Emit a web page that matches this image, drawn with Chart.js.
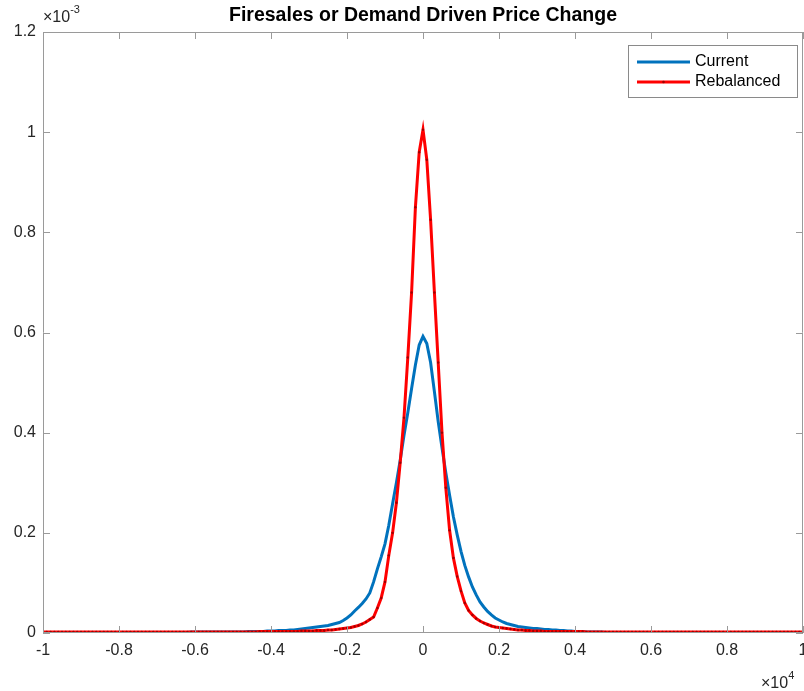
<!DOCTYPE html>
<html>
<head>
<meta charset="utf-8">
<script src="https://cdn.jsdelivr.net/npm/chart.js@4"></script>
<style>
  html, body { margin: 0; padding: 0; background: #fff; overflow: hidden; }
  #wrap { width: 804px; height: 691px; position: relative; overflow: hidden; }
</style>
</head>
<body>
<div id="wrap"><canvas id="c" width="804" height="691"></canvas></div>
<script>
// Title / labels
const chartTitle = "Firesales or Demand Driven Price Change";
const seriesNames = ["Current", "Rebalanced"];
const yExponent = "-3";
const xExponent = "4";
const xTicks = [-1, -0.8, -0.6, -0.4, -0.2, 0, 0.2, 0.4, 0.6, 0.8, 1];
const yTicks = [0, 0.2, 0.4, 0.6, 0.8, 1, 1.2];

// Sample grid (x in units of 10^4), step 0.01 from -1 to 1
const xStart = -1, xStep = 0.01;

// Current (blue), y in units of 10^-3, x from -1.00 to 1.00
const current = [
  // -1.00 .. -0.51
  0,0,0,0,0,0,0,0,0,0, 0,0,0,0,0,0,0,0,0,0,
  0.001,0.001,0.001,0.001,0.001,0.001,0.001,0.001,0.001,0.001,
  0.001,0.001,0.001,0.001,0.001,0.001,0.001,0.001,0.001,0.002,
  0.002,0.002,0.002,0.002,0.002,0.002,0.002,0.002,0.002,0.002,
  // -0.50 .. -0.41
  0.002,0.002,0.002,0.002,0.003,0.003,0.003,0.003,0.003,0.004,
  // -0.40 .. -0.31
  0.004,0.004,0.005,0.005,0.005,0.006,0.006,0.007,0.008,0.009,
  // -0.30 .. -0.21
  0.010,0.011,0.012,0.013,0.014,0.015,0.017,0.019,0.021,0.025,
  // -0.20 .. -0.11
  0.030,0.036,0.044,0.051,0.059,0.068,0.080,0.102,0.128,0.152,
  // -0.10 .. -0.01
  0.178,0.215,0.258,0.300,0.345,0.395,0.440,0.488,0.535,0.575,
  // 0.00
  0.592,
  // 0.01 .. 0.10
  0.578,0.540,0.482,0.422,0.370,0.320,0.275,0.232,0.196,0.163,
  // 0.11 .. 0.20
  0.135,0.112,0.092,0.076,0.062,0.052,0.043,0.036,0.030,0.026,
  // 0.21 .. 0.30
  0.022,0.019,0.017,0.015,0.013,0.012,0.011,0.010,0.009,0.009,
  // 0.31 .. 0.40
  0.008,0.007,0.007,0.006,0.006,0.005,0.005,0.004,0.004,0.003,
  // 0.41 .. 0.50
  0.003,0.003,0.002,0.002,0.002,0.002,0.002,0.001,0.001,0.001,
  // 0.51 .. 1.00
  0.001,0.001,0.001,0.001,0.001,0.001,0.001,0.001,0.001,0.001,
  0.001,0.001,0.001,0.001,0.001,0,0,0,0,0,
  0,0,0,0,0,0,0,0,0,0, 0,0,0,0,0,0,0,0,0,0, 0,0,0,0,0,0,0,0,0,0
];

// Rebalanced (red), y in units of 10^-3, x from -1.00 to 1.00
const rebalanced = [
  // -1.00 .. -0.51
  0.002,0.002,0.002,0.002,0.002,0.002,0.002,0.002,0.002,0.002,
  0.002,0.002,0.002,0.002,0.002,0.002,0.002,0.002,0.002,0.002,
  0.002,0.002,0.002,0.002,0.002,0.002,0.002,0.002,0.002,0.002,
  0.002,0.002,0.002,0.002,0.002,0.002,0.002,0.002,0.002,0.002,
  0.002,0.002,0.002,0.002,0.002,0.002,0.002,0.002,0.002,0.002,
  // -0.50 .. -0.41
  0.002,0.002,0.002,0.002,0.002,0.002,0.002,0.003,0.003,0.003,
  // -0.40 .. -0.31
  0.003,0.003,0.003,0.003,0.003,0.003,0.003,0.003,0.004,0.004,
  // -0.30 .. -0.21
  0.004,0.004,0.005,0.005,0.005,0.006,0.006,0.007,0.008,0.009,
  // -0.20 .. -0.11
  0.010,0.011,0.013,0.015,0.018,0.022,0.027,0.032,0.050,0.070,
  // -0.10 .. -0.01
  0.102,0.155,0.200,0.260,0.340,0.430,0.550,0.680,0.850,0.960,
  // 0.00
  1.005,
  // 0.01 .. 0.10
  0.945,0.825,0.680,0.540,0.400,0.290,0.205,0.150,0.113,0.084,
  // 0.11 .. 0.20
  0.060,0.045,0.036,0.029,0.024,0.020,0.017,0.014,0.012,0.011,
  // 0.21 .. 0.30
  0.010,0.009,0.008,0.007,0.006,0.006,0.005,0.005,0.004,0.004,
  // 0.31 .. 0.40
  0.004,0.003,0.003,0.003,0.003,0.003,0.003,0.003,0.003,0.003,
  // 0.41 .. 0.50
  0.003,0.003,0.002,0.002,0.002,0.002,0.002,0.002,0.002,0.002,
  // 0.51 .. 1.00
  0.002,0.002,0.002,0.002,0.002,0.002,0.002,0.002,0.002,0.002,
  0.002,0.002,0.002,0.002,0.002,0.002,0.002,0.002,0.002,0.002,
  0.002,0.002,0.002,0.002,0.002,0.002,0.002,0.002,0.002,0.002,
  0.002,0.002,0.002,0.002,0.002,0.002,0.002,0.002,0.002,0.002,
  0.002,0.002,0.002,0.002,0.002,0.002,0.002,0.002,0.002,0.002
];

const toPoints = arr => arr.map((v, i) => ({ x: +(xStart + i * xStep).toFixed(2), y: v }));

const FONT = "'Liberation Sans', Arial, Helvetica, sans-serif";
const AX = '#9a9a9a';
const TXT = '#262626';
const BLUE = '#0072BD';
const RED = '#FF0000';

const fmt = v => {
  const r = Math.round(v * 10) / 10;
  return Object.is(r, -0) ? '0' : String(r);
};

// Fixes the plot box to match the reference frame
const AREA = { left: 43, right: 803, top: 32, bottom: 633 };
const areaPlugin = {
  id: 'area',
  afterLayout(chart) {
    const a = chart.chartArea;
    Object.assign(a, AREA);
    a.width = AREA.right - AREA.left;
    a.height = AREA.bottom - AREA.top;
    const x = chart.scales.x, y = chart.scales.y;
    x.left = AREA.left; x.right = AREA.right; x.width = a.width;
    x.top = AREA.bottom; x.bottom = chart.height; x.height = x.bottom - x.top;
    y.top = AREA.top; y.bottom = AREA.bottom; y.height = a.height;
    y.left = 0; y.right = AREA.left; y.width = AREA.left;
    x.configure(); y.configure();
  }
};

const decorPlugin = {
  id: 'decor',
  afterDraw(chart) {
    const ctx = chart.ctx;
    const a = chart.chartArea;
    const xs = chart.scales.x, ys = chart.scales.y;
    ctx.save();
    // box
    ctx.strokeStyle = AX;
    ctx.lineWidth = 1;
    ctx.beginPath();
    ctx.rect(a.left + 0.5, a.top + 0.5, a.right - a.left - 1, a.bottom - a.top - 1);
    ctx.stroke();
    // inward ticks
    const tl = 7;
    ctx.beginPath();
    xTicks.forEach(t => {
      const px = Math.round(xs.getPixelForValue(t)) + 0.5;
      ctx.moveTo(px, a.bottom); ctx.lineTo(px, a.bottom - tl);
      ctx.moveTo(px, a.top); ctx.lineTo(px, a.top + tl);
    });
    yTicks.forEach(t => {
      const py = Math.round(ys.getPixelForValue(t)) + 0.5;
      ctx.moveTo(a.left, py); ctx.lineTo(a.left + tl, py);
      ctx.moveTo(a.right, py); ctx.lineTo(a.right - tl, py);
    });
    ctx.stroke();

    // title
    ctx.fillStyle = '#000';
    ctx.font = 'bold 19.5px ' + FONT;
    ctx.textAlign = 'center';
    ctx.textBaseline = 'middle';
    ctx.fillText(chartTitle, 423, 16);

    // exponent labels
    ctx.fillStyle = TXT;
    ctx.textAlign = 'left';
    ctx.textBaseline = 'alphabetic';
    ctx.font = '16px ' + FONT;
    let x0 = 43, y0 = 22;
    ctx.fillText('\u00d710', x0, y0);
    let w = ctx.measureText('\u00d710').width;
    ctx.font = '11px ' + FONT;
    ctx.fillText(yExponent, x0 + w, y0 - 9);

    ctx.font = '16px ' + FONT;
    x0 = 761; y0 = 688;
    ctx.fillText('\u00d710', x0, y0);
    w = ctx.measureText('\u00d710').width;
    ctx.font = '11px ' + FONT;
    ctx.fillText(xExponent, x0 + w, y0 - 9);

    // legend
    const lx = 628, ly = 45, lw = 169, lh = 52;
    ctx.fillStyle = '#fff';
    ctx.fillRect(lx, ly, lw, lh);
    ctx.strokeStyle = '#8a8a8a';
    ctx.lineWidth = 1;
    ctx.strokeRect(lx + 0.5, ly + 0.5, lw, lh);
    const rows = [[seriesNames[0], BLUE, 62], [seriesNames[1], RED, 82]];
    rows.forEach(([name, col, yy], i) => {
      ctx.strokeStyle = col;
      ctx.lineWidth = 3;
      ctx.beginPath();
      ctx.moveTo(637, yy); ctx.lineTo(690, yy);
      ctx.stroke();
      if (i === 1) {
        ctx.fillStyle = '#a00000';
        ctx.beginPath(); ctx.arc(663.5, yy, 1.3, 0, Math.PI * 2); ctx.fill();
      }
      ctx.fillStyle = '#000';
      ctx.font = '16px ' + FONT;
      ctx.textBaseline = 'middle';
      ctx.fillText(name, 695, yy);
    });
    ctx.restore();
  }
};

new Chart(document.getElementById('c'), {
  type: 'line',
  data: {
    datasets: [
      {
        label: seriesNames[0],
        data: toPoints(current),
        borderColor: BLUE,
        borderWidth: 3,
        pointRadius: 0,
        tension: 0,
        order: 2
      },
      {
        label: seriesNames[1],
        data: toPoints(rebalanced),
        borderColor: RED,
        borderWidth: 3,
        pointRadius: 1.2,
        pointBorderWidth: 0,
        pointBackgroundColor: '#a00000',
        tension: 0,
        order: 1
      }
    ]
  },
  options: {
    responsive: false,
    animation: false,
    devicePixelRatio: 1,
    layout: { padding: { top: 32, right: 0, left: 0, bottom: 0 } },
    plugins: {
      legend: { display: false },
      title: { display: false },
      tooltip: { enabled: false }
    },
    scales: {
      x: {
        type: 'linear',
        min: -1, max: 1,
        afterFit(s) { s.height = 58; },
        afterBuildTicks(s) { s.ticks = xTicks.map(v => ({ value: v })); },
        grid: { display: false, drawTicks: false },
        border: { display: false },
        ticks: {
          padding: 8,
          color: TXT,
          font: { family: FONT, size: 16 },
          maxRotation: 0,
          autoSkip: false,
          callback: v => fmt(v)
        }
      },
      y: {
        type: 'linear',
        min: 0, max: 1.2,
        afterFit(s) { s.width = 43; },
        afterBuildTicks(s) { s.ticks = yTicks.map(v => ({ value: v })); },
        grid: { display: false, drawTicks: false },
        border: { display: false },
        ticks: {
          padding: 7,
          color: TXT,
          font: { family: FONT, size: 16 },
          autoSkip: false,
          callback: v => fmt(v)
        }
      }
    }
  },
  plugins: [areaPlugin, decorPlugin]
});
</script>
</body>
</html>
